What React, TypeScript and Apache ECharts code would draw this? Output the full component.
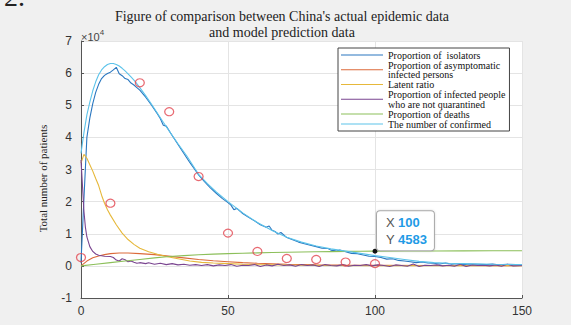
import React, { useEffect, useRef } from "react";
import * as echarts from "echarts";

const titleLines = ["Figure of comparison between China's actual epidemic data", "and model prediction data"];
const xTicks = { min: 0, max: 150, interval: 50 };
const yTicks = { min: -10000, max: 70000, interval: 10000, scale: 10000 };

const seriesNames = [
  "Proportion of  isolators",
  "Proportion of asymptomatic infected persons",
  "Latent ratio",
  "Proportion of infected people who are not quarantined",
  "Proportion of deaths",
  "The number of confirmed",
];
const legendText = [
  "Proportion of  isolators",
  "Proportion of asymptomatic\ninfected persons",
  "Latent ratio",
  "Proportion of infected people\nwho are not quarantined",
  "Proportion of deaths",
  "The number of confirmed",
];
const seriesColors = ["#2a77c0", "#dc6a3a", "#e6b83a", "#7a4590", "#8cbf5a", "#5cc3ea"];

const isolators: [number, number][] = [
  [0, 1000], [1, 21000], [2, 40000], [3, 46000], [4, 50500], [5, 54000], [6, 56500], [7, 58300],
  [8, 59300], [9, 59900], [10, 60300], [11, 61000], [12, 61800], [13, 59800], [14, 59200], [15, 58300],
  [16, 58000], [17, 56900], [18, 56300], [19, 55500], [20, 54700], [22, 52500], [24, 50000], [26, 47300],
  [27, 45800], [28, 43800], [29, 43500], [31, 40600], [33, 37800], [35, 35000], [37, 32200], [39, 29600],
  [40, 28300], [42, 26200], [44, 24300], [46, 22600], [48, 21000], [50, 19700], [51, 18900], [52, 17500],
  [53, 17900], [55, 16300], [57, 15100], [59, 14000], [61, 12800], [63, 12000], [64, 12400], [65, 11100],
  [66, 10700], [67, 9900], [68, 10400], [70, 8800], [72, 8100], [74, 7400], [76, 6900], [78, 6400],
  [80, 6000], [82, 5500], [84, 5400], [85, 4900], [87, 4600], [88, 4900], [90, 4400], [92, 3900],
  [94, 3800], [96, 3400], [98, 3000], [100, 2900], [102, 2600], [104, 2100], [106, 2200], [108, 1700],
  [110, 1500], [112, 1300], [114, 1000], [116, 1200], [118, 900], [120, 800], [122, 600], [124, 900],
  [126, 500], [128, 700], [130, 400], [132, 600], [135, 500], [138, 400], [140, 600], [142, 300],
  [145, 500], [148, 400], [150, 300],
];
const asymptomatic: [number, number][] = [
  [0, 0], [2, 1500], [4, 2500], [6, 3100], [8, 3500], [10, 3800], [13, 4000], [16, 4000], [20, 3800],
  [25, 3500], [29, 3100], [35, 2500], [40, 2000], [45, 1600], [50, 1300], [55, 1000], [60, 800],
  [70, 500], [80, 350], [90, 250], [100, 200], [120, 100], [150, 50],
];
const latent: [number, number][] = [
  [0, 32000], [1, 34700], [2, 33500], [3, 31500], [4, 29500], [5, 27200], [6, 25000], [7, 22000],
  [8, 19500], [9, 17500], [10, 15800], [12, 12800], [14, 10200], [16, 8200], [18, 6700], [20, 5500],
  [23, 4400], [26, 3600], [29, 2900], [33, 2200], [37, 1500], [41, 1100], [45, 900], [50, 700],
  [55, 500], [60, 400], [70, 250], [80, 150], [100, 80], [150, 20],
];
const notQuarantined: [number, number][] = [
  [0, 33000], [0.5, 25000], [1, 17000], [1.5, 12000], [2, 9000], [3, 6000], [4, 4500], [5, 3700],
  [6, 3300], [8, 3000], [10, 2900], [11, 2600], [12, 1800], [13, 1500], [14, 2200], [15, 1900],
  [16, 1300], [17, 1500], [18, 1100], [19, 800], [20, 1000], [22, 700], [23, 1000], [25, 500],
  [27, 800], [29, 400], [31, 700], [33, 300], [35, 500], [37, 200], [39, 400], [41, 100], [43, 400],
  [45, 0], [47, 300], [49, 100], [51, 400], [53, -100], [55, 200], [57, 100], [59, 400], [61, -200],
  [63, 300], [65, 0], [67, 500], [69, 100], [71, 300], [73, -100], [75, 400], [77, 100], [79, 300],
  [81, -200], [83, 400], [85, 100], [87, 0], [89, 400], [91, -100], [93, 200], [95, 100], [97, 400],
  [99, 0], [101, 300], [103, 100], [105, -200], [107, 300], [109, 100], [111, -100], [113, 600],
  [115, -200], [117, 200], [119, 100], [121, 300], [123, 0], [125, 200], [127, -100], [129, 500],
  [131, -200], [133, 300], [135, 100], [137, 200], [139, 0], [141, 300], [143, -100], [145, 500],
  [147, 0], [150, 100],
];
const deaths: [number, number][] = [
  [0, 0], [5, 500], [10, 1000], [15, 1500], [20, 2000], [25, 2500], [30, 2900], [35, 3200], [40, 3450],
  [45, 3650], [50, 3800], [55, 3950], [60, 4050], [65, 4150], [70, 4250], [75, 4320], [80, 4400],
  [85, 4450], [90, 4500], [95, 4550], [100, 4583], [110, 4620], [120, 4650], [130, 4670], [140, 4690],
  [150, 4700],
];
const confirmed: [number, number][] = [
  [0, 35000], [1, 41500], [2, 47000], [3, 51000], [4, 54500], [5, 57300], [6, 59500], [7, 61000],
  [8, 62000], [9, 62700], [10, 63000], [11, 63000], [12, 62700], [13, 62200], [14, 61500], [15, 60700],
  [16, 59800], [17, 58800], [18, 57800], [19, 56700], [20, 55500], [22, 53000], [24, 50300], [26, 47500],
  [28, 44700], [30, 42000], [33, 38000], [36, 34200], [40, 28500], [43, 25600], [46, 23000], [50, 20000],
  [55, 16500], [60, 13500], [65, 11000], [70, 8900], [75, 7400], [80, 6200], [85, 5300], [90, 4600],
  [95, 3900], [100, 3200], [105, 2600], [110, 2000], [115, 1400], [120, 1000], [125, 800], [130, 700],
  [140, 500], [150, 400],
];
const actualData: [number, number][] = [
  [0, 2600], [10, 19500], [20, 57000], [30, 48000], [40, 27800], [50, 10200], [60, 4500], [70, 2300],
  [80, 2000], [90, 1200], [100, 700],
];
const tipPoint: [number, number] = [100, 4583];

const lineSets = [isolators, asymptomatic, latent, notQuarantined, deaths, confirmed];

export default function App() {
  const ref = useRef<HTMLDivElement>(null);
  useEffect(() => {
    if (!ref.current) return;
    const chart = echarts.init(ref.current, undefined, { renderer: "svg" });
    const serif = "'Liberation Serif', 'Times New Roman', serif";
    const sans = "'Liberation Sans', Arial, sans-serif";
    const lineSeries: any[] = lineSets.map((d, i) => ({
      name: seriesNames[i],
      type: "line",
      data: d,
      symbol: "none",
      smooth: false,
      lineStyle: { width: 1.1, color: seriesColors[i] },
      itemStyle: { color: seriesColors[i] },
      z: 2,
    }));
    lineSeries[4].markPoint = {
      symbol: "circle",
      symbolSize: 5,
      itemStyle: { color: "#111" },
      data: [{ coord: tipPoint, value: tipPoint[1] }],
      label: {
        show: true,
        position: [4.5, 1.5],
        align: "left",
        verticalAlign: "bottom",
        backgroundColor: "#fff",
        borderColor: "#a8a8a8",
        borderWidth: 1,
        borderRadius: 3,
        padding: [3, 7, 2, 9],
        shadowColor: "rgba(0,0,0,0.15)",
        shadowBlur: 2,
        formatter: () => `{k|X} {v|${tipPoint[0]}}\n{k|Y} {v|${tipPoint[1]}}`,
        rich: {
          k: { color: "#555", fontSize: 13, fontFamily: sans, lineHeight: 17 },
          v: { color: "#1f9be6", fontSize: 13, fontWeight: "bold", fontFamily: sans, lineHeight: 17 },
        },
      },
    };
    chart.setOption({
      animation: false,
      backgroundColor: "#f0f0f0",
      title: {
        text: titleLines.join("\n"),
        left: 282,
        top: 8,
        padding: 0,
        textAlign: "center",
        textStyle: { fontFamily: serif, fontSize: 14, fontWeight: "normal", color: "#222", lineHeight: 16 },
      },
      grid: {
        left: 81, right: 49, top: 41, bottom: 27, show: true, backgroundColor: "#fff", borderWidth: 0,
        outerBoundsMode: "none", containLabel: false,
      },
      legend: {
        orient: "vertical",
        left: 338,
        top: 48,
        icon: "rect",
        itemWidth: 42,
        itemHeight: 1,
        itemGap: 0,
        padding: [2, 4, 2, 3],
        borderColor: "#444",
        borderWidth: 1,
        backgroundColor: "#fff",
        data: seriesNames,
        formatter: (name: string) => legendText[seriesNames.indexOf(name)],
        textStyle: { fontFamily: serif, fontSize: 10, lineHeight: 9.5, color: "#111" },
      },
      xAxis: {
        type: "value",
        min: xTicks.min,
        max: xTicks.max,
        interval: xTicks.interval,
        name: "Date",
        nameLocation: "middle",
        nameGap: 26,
        nameTextStyle: { fontFamily: serif, fontSize: 12, color: "#222" },
        axisLine: { show: true, onZero: false, lineStyle: { color: "#555", width: 1 } },
        axisTick: { show: true, inside: true, length: 3, lineStyle: { color: "#555" } },
        axisLabel: { fontFamily: sans, fontSize: 12, color: "#333", margin: 7 },
        splitLine: { show: true, lineStyle: { color: "#e4e4e4", width: 1 } },
      },
      yAxis: {
        type: "value",
        min: yTicks.min,
        max: yTicks.max,
        interval: yTicks.interval,
        name: "Total number of patients",
        nameLocation: "middle",
        nameGap: 33,
        nameTextStyle: { fontFamily: serif, fontSize: 11, color: "#222", padding: [0, 18, 0, 0] },
        axisLine: { show: true, lineStyle: { color: "#555", width: 1 } },
        axisTick: { show: true, inside: true, length: 3, lineStyle: { color: "#555" } },
        axisLabel: {
          fontFamily: sans,
          fontSize: 12,
          color: "#333",
          margin: 9,
          formatter: (v: number) => String(v / yTicks.scale),
        },
        splitLine: { show: true, lineStyle: { color: "#e4e4e4", width: 1 } },
      },
      graphic: [
        {
          type: "text",
          left: 4,
          top: -18,
          style: { text: "2.", fontFamily: serif, fontSize: 28, fill: "#222" },
        },
        {
          type: "text",
          left: 81,
          top: 28,
          style: {
            text: "{a|×10}{b|4}",
            rich: {
              a: { fontFamily: sans, fontSize: 11, fill: "#444", color: "#444", verticalAlign: "bottom" },
              b: { fontFamily: sans, fontSize: 8, fill: "#444", color: "#444", verticalAlign: "top", padding: [0, 0, 6, 0] },
            },
          },
        },
      ],
      series: [
        ...lineSeries,
        {
          name: "Actual data",
          type: "scatter",
          data: actualData,
          symbol: "circle",
          symbolSize: [9, 8],
          itemStyle: { color: "transparent", borderColor: "#e2454f", borderWidth: 1.2 },
          z: 3,
        },
      ],
    });
    return () => chart.dispose();
  }, []);
  return <div ref={ref} style={{ position: "fixed", left: 0, top: 0, width: 571, height: 325 }} />;
}
